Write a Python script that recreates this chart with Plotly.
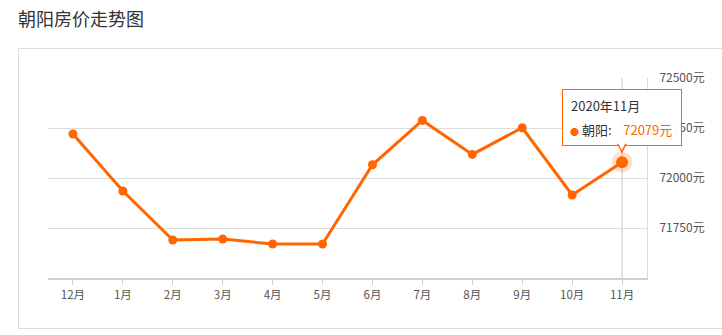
import plotly.graph_objects as go

months = ["12月", "1月", "2月", "3月", "4月", "5月", "6月", "7月", "8月", "9月", "10月", "11月"]
prices = [72220, 71935, 71690, 71695, 71670, 71670, 72066, 72288, 72118, 72251, 71915, 72079]
y_ticks = [71750, 72000, 72250, 72500]
y_tick_text = [f"{v}元" for v in y_ticks]
tooltip_title = "2020年11月"
series_name = "朝阳"

W, H = 722, 335
L, R, T, B = 48, 75, 78, 57
PW, PH = W - L - R, H - T - B
ORANGE = "#ff6600"
FONT = "Noto Sans CJK SC"

def px_x(p):
    return (p - L) / PW

def px_y(p):
    return 1 - (p - T) / PH

fig = go.Figure()
fig.add_trace(go.Scatter(
    x=months, y=prices, mode="lines+markers",
    line=dict(color=ORANGE, width=3),
    marker=dict(color=ORANGE, size=9),
    hoverinfo="skip", showlegend=False,
))
# hovered point halo
fig.add_trace(go.Scatter(
    x=[months[-1]], y=[prices[-1]], mode="markers",
    marker=dict(color="rgba(255,102,0,0.2)", size=21),
    hoverinfo="skip", showlegend=False,
))
fig.add_trace(go.Scatter(
    x=[months[-1]], y=[prices[-1]], mode="markers",
    marker=dict(color=ORANGE, size=12),
    hoverinfo="skip", showlegend=False,
))

shapes = [
    # card border
    dict(type="rect", xref="paper", yref="paper",
         x0=px_x(18.5), x1=px_x(740), y0=px_y(48.5), y1=px_y(328.5),
         line=dict(color="#dcdcdc", width=1), fillcolor="rgba(0,0,0,0)", layer="below"),
    # hover guide line
    dict(type="line", xref="x", yref="paper", x0=months[-1], x1=months[-1], y0=0, y1=1,
         line=dict(color="#c8c8c8", width=1), layer="below"),
]

# tooltip
box_w, box_h = 118, 55
gap = 16
annotations = [
    dict(x=months[-1], y=prices[-1], xref="x", yref="y", text=" ", showarrow=False,
         width=box_w, height=box_h, yanchor="bottom", xanchor="center", yshift=gap,
         bgcolor="rgba(255,255,255,0.95)", bordercolor=ORANGE, borderwidth=1, borderpad=0),
    # notch (outline + white fill)
    dict(x=months[-1], y=prices[-1], xref="x", yref="y", text="▼", showarrow=False,
         xanchor="center", yanchor="middle", yshift=gap - 1,
         font=dict(family="DejaVu Sans", size=13, color=ORANGE)),
    dict(x=months[-1], y=prices[-1], xref="x", yref="y", text="▼", showarrow=False,
         xanchor="center", yanchor="middle", yshift=gap + 1,
         font=dict(family="DejaVu Sans", size=10, color="white")),
    dict(x=months[-1], y=prices[-1], xref="x", yref="y", text=tooltip_title, showarrow=False,
         xanchor="left", yanchor="middle", xshift=-53, yshift=57,
         font=dict(family=FONT, size=13, color="#333")),
    dict(x=months[-1], y=prices[-1], xref="x", yref="y",
         text=f"<span style='color:{ORANGE};font-size:9px'>●</span> {series_name}:    <span style='color:{ORANGE}'>{prices[-1]}元</span>",
         showarrow=False, xanchor="left", yanchor="middle", xshift=-54, yshift=33,
         font=dict(family=FONT, size=13, color="#333")),
]

fig.update_layout(
    width=W, height=H,
    margin=dict(l=L, r=R, t=T, b=B),
    paper_bgcolor="white", plot_bgcolor="white",
    shapes=shapes, annotations=annotations,
    title=dict(text="朝阳房价走势图", x=18 / W, xref="container", xanchor="left",
               y=1 - 20 / H, yref="container", yanchor="middle",
               font=dict(family=FONT, size=18, color="#333")),
    font=dict(family=FONT, size=12, color="#555"),
    xaxis=dict(
        type="category", range=[-0.5, len(months) - 0.5],
        showgrid=False, showline=True, linecolor="#cfcfcf", linewidth=2,
        ticks="outside", ticklen=5, tickcolor="#cfcfcf", tickwidth=1,
        tickfont=dict(family=FONT, size=11.5, color="#555"), zeroline=False,
        fixedrange=True,
    ),
    yaxis=dict(
        side="right", range=[71500, 72500],
        tickvals=y_ticks, ticktext=y_tick_text,
        showgrid=True, gridcolor="#dddddd", gridwidth=1,
        showline=True, linecolor="#dddddd", linewidth=1,
        ticks="", ticklabelstandoff=9, zeroline=False,
        tickfont=dict(family=FONT, size=12, color="#555"),
        fixedrange=True,
    ),
)

fig.write_html("out.html", config={"displayModeBar": False})
